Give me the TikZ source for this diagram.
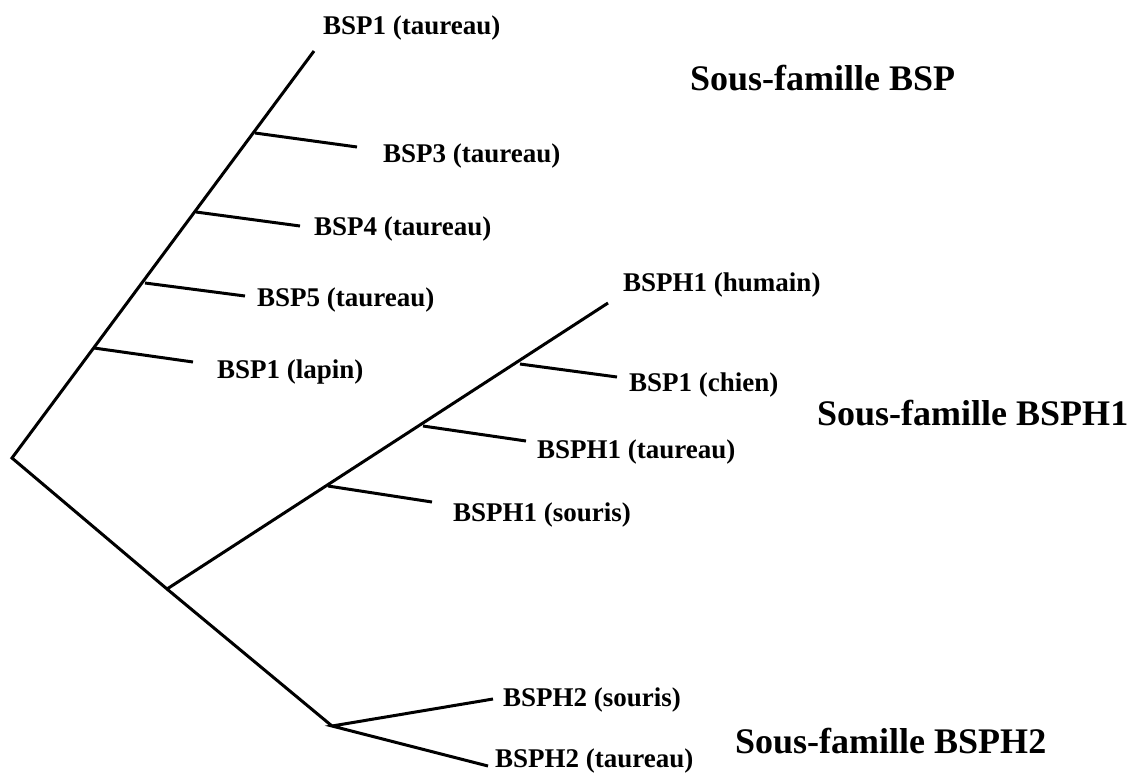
\documentclass[tikz,border=0pt]{standalone}
\usepackage{fontspec}
\setmainfont{Liberation Serif}
\begin{document}
\begin{tikzpicture}[x=1pt,y=-1pt,
  branch/.style={line width=3pt,black},
  leaf/.style={anchor=base west,inner sep=0pt,font=\fontsize{27}{29}\selectfont\bfseries},
  family/.style={anchor=base west,inner sep=0pt,font=\fontsize{36}{40}\selectfont\bfseries}]
\useasboundingbox (0,0) rectangle (1134,774);

% internal nodes of the tree
\coordinate (root) at (12,458);
\coordinate (h1) at (167,589);
\coordinate (h2) at (332,726);

% BSP subfamily
\coordinate (bspTip) at (314,51);
\coordinate (b3) at (255,133);
\coordinate (b4) at (196,212);
\coordinate (b5) at (145,283);
\coordinate (bl) at (94,348);
\coordinate (b3e) at (357,147);
\coordinate (b4e) at (300,226);
\coordinate (b5e) at (245,296);
\coordinate (ble) at (193,362);

% BSPH1 subfamily
\coordinate (hTip) at (608,303);
\coordinate (hc) at (520,364);
\coordinate (ht) at (423,426);
\coordinate (hs) at (328,486);
\coordinate (hce) at (617,377);
\coordinate (hte) at (526,441);
\coordinate (hse) at (432,502);

% BSPH2 subfamily
\coordinate (p2s) at (493,699);
\coordinate (p2t) at (488,766);

% branches
\draw[branch] (bspTip) -- (root) -- (h1) -- (h2);
\draw[branch] (b3) -- (b3e);
\draw[branch] (b4) -- (b4e);
\draw[branch] (b5) -- (b5e);
\draw[branch] (bl) -- (ble);
\draw[branch] (h1) -- (hTip);
\draw[branch] (hc) -- (hce);
\draw[branch] (ht) -- (hte);
\draw[branch] (hs) -- (hse);
\draw[branch] (p2s) -- (h2) -- (p2t);

% leaf labels
\node[leaf] (lb1) at (323,34) {BSP1 (taureau)};
\node[leaf] (lb3) at (383,162) {BSP3 (taureau)};
\node[leaf] (lb4) at (314,235) {BSP4 (taureau)};
\node[leaf] (lb5) at (257,306) {BSP5 (taureau)};
\node[leaf] (lbl) at (217,378) {BSP1 (lapin)};
\node[leaf] (lhh) at (623,291) {BSPH1 (humain)};
\node[leaf] (lhc) at (629,391) {BSP1 (chien)};
\node[leaf] (lht) at (537,458) {BSPH1 (taureau)};
\node[leaf] (lhs) at (453,521) {BSPH1 (souris)};
\node[leaf] (l2s) at (503,706) {BSPH2 (souris)};
\node[leaf] (l2t) at (495,767) {BSPH2 (taureau)};

% subfamily titles
\node[family] (fBSP) at (690,90) {Sous-famille BSP};
\node[family] (fH1) at (817,425) {Sous-famille BSPH1};
\node[family] (fH2) at (735,753) {Sous-famille BSPH2};
\end{tikzpicture}
\end{document}
